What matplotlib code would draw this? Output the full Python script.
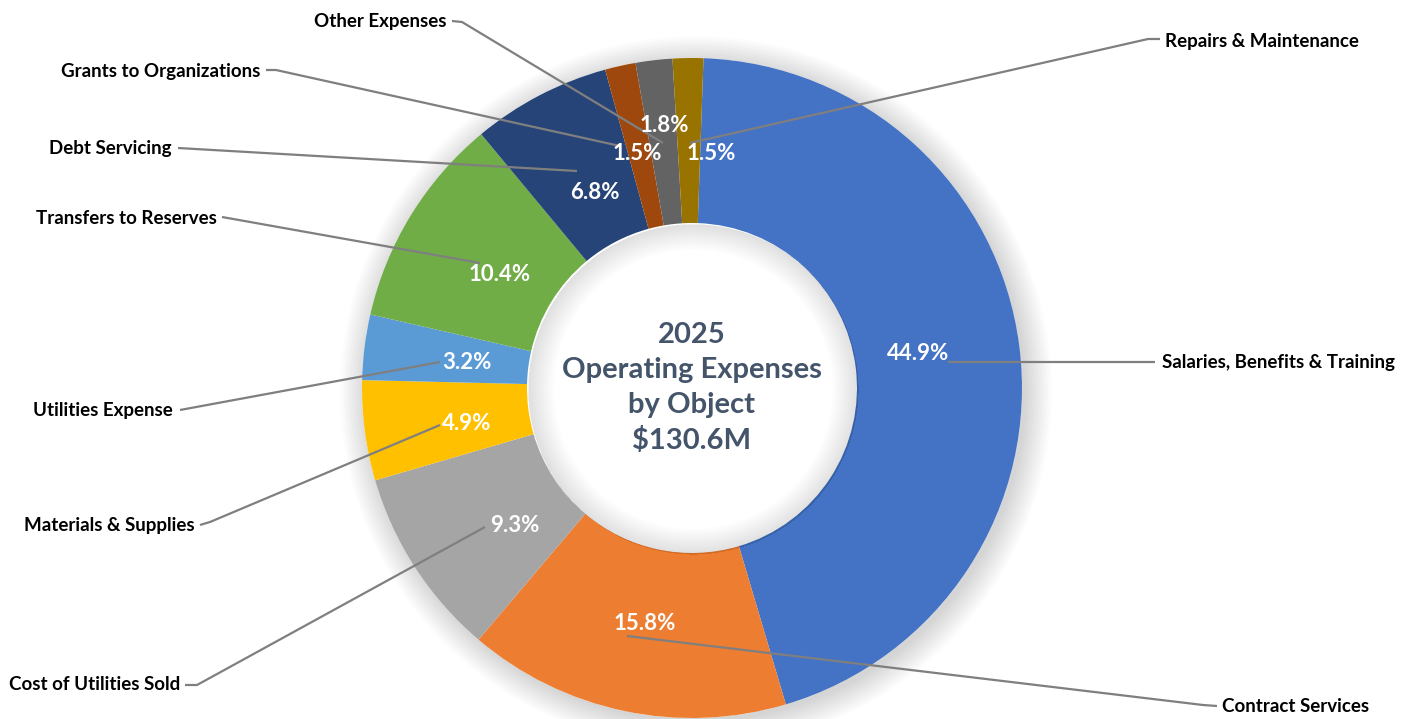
import matplotlib.pyplot as plt
from matplotlib.patches import Circle, Wedge

# data
categories = ["Salaries, Benefits & Training", "Contract Services", "Cost of Utilities Sold",
              "Materials & Supplies", "Utilities Expense", "Transfers to Reserves",
              "Debt Servicing", "Grants to Organizations", "Other Expenses",
              "Repairs & Maintenance"]
shares = [44.9, 15.8, 9.3, 4.9, 3.2, 10.4, 6.8, 1.5, 1.8, 1.5]
colors = ["#4472C4", "#ED7D31", "#A5A5A5", "#FFC000", "#5B9BD5", "#70AD47",
          "#264478", "#9E480E", "#636363", "#997300"]
center_text = "2025\nOperating Expenses\nby Object\n$130.6M"

# layout in reference pixels (x from left, y from top)
CX, CY, R = 692, 388, 330
W, H = 1413, 719


def px(x, y):
    return (x - CX) / R, (CY - y) / R


pct_pos = [(918, 353), (645, 623), (515, 525), (467, 423), (467, 362),
           (500, 274), (595, 192), (637, 153), (664, 125), (711, 153)]
# (text x, text y, ha)
name_pos = [(1162, 362, "left"), (1222, 707, "left"), (180, 685, "right"),
            (195, 525, "right"), (173, 410, "right"), (217, 218, "right"),
            (172, 148, "right"), (260, 71, "right"), (447, 21, "right"),
            (1165, 41, "left")]
leaders = [
    [(948, 362), (1155, 362)],
    [(627, 636), (1203, 705), (1217, 706)],
    [(485, 527), (197, 685), (185, 685)],
    [(440, 425), (210, 522), (200, 525)],
    [(440, 362), (180, 410)],
    [(480, 263), (222, 217)],
    [(577, 171), (178, 148)],
    [(620, 146), (276, 70), (266, 70)],
    [(663, 143), (462, 22), (452, 21)],
    [(690, 143), (1148, 39), (1160, 39)],
]

plt.rcParams['font.family'] = ['Lato', 'DejaVu Sans']

fig = plt.figure(figsize=(W / 100, H / 100), dpi=100)
ax = fig.add_axes([0, 0, 1, 1])

# soft shadow round the ring
for k in range(14):
    ax.add_patch(Circle((0.012, -0.012), 1.0 + k * 0.006, color="#000000",
                        alpha=0.012, lw=0, zorder=0))
ax.add_patch(Circle((0, 0), 1.0, color="white", lw=0, zorder=0.5))

ax.pie(shares, colors=colors, radius=1.0, startangle=88, counterclock=False,
       wedgeprops=dict(width=0.5, linewidth=0), normalize=True)

# soft inner shadow in the hole
for k in range(16):
    ax.add_patch(Wedge((0.004, -0.004), 0.5, 0, 360, width=0.003 + k * 0.005,
                       color="#000000", alpha=0.008, lw=0, zorder=3))

ax.text(0, 0.0, center_text, ha="center", va="center", fontsize=21,
        fontweight="bold", color="#44546A", linespacing=1.42, zorder=5)

for pts in leaders:
    xs, ys = zip(*[px(x, y) for x, y in pts])
    ax.plot(xs, ys, color="#7F7F7F", lw=1.6, zorder=6, solid_capstyle="butt")

for val, (x, y) in zip(shares, pct_pos):
    tx, ty = px(x, y)
    ax.text(tx, ty, f"{val:.1f}%", ha="center", va="center", fontsize=16,
            fontweight="bold", color="white", zorder=7)

for name, (x, y, ha) in zip(categories, name_pos):
    tx, ty = px(x, y)
    ax.text(tx, ty, name, ha=ha, va="center", fontsize=13.5, fontweight="bold",
            color="black", zorder=7)

ax.set_xlim(-CX / R, (W - CX) / R)
ax.set_ylim((CY - H) / R, CY / R)
ax.set_aspect("equal")
ax.axis("off")

fig.savefig("out.png", dpi=100, facecolor="white")
